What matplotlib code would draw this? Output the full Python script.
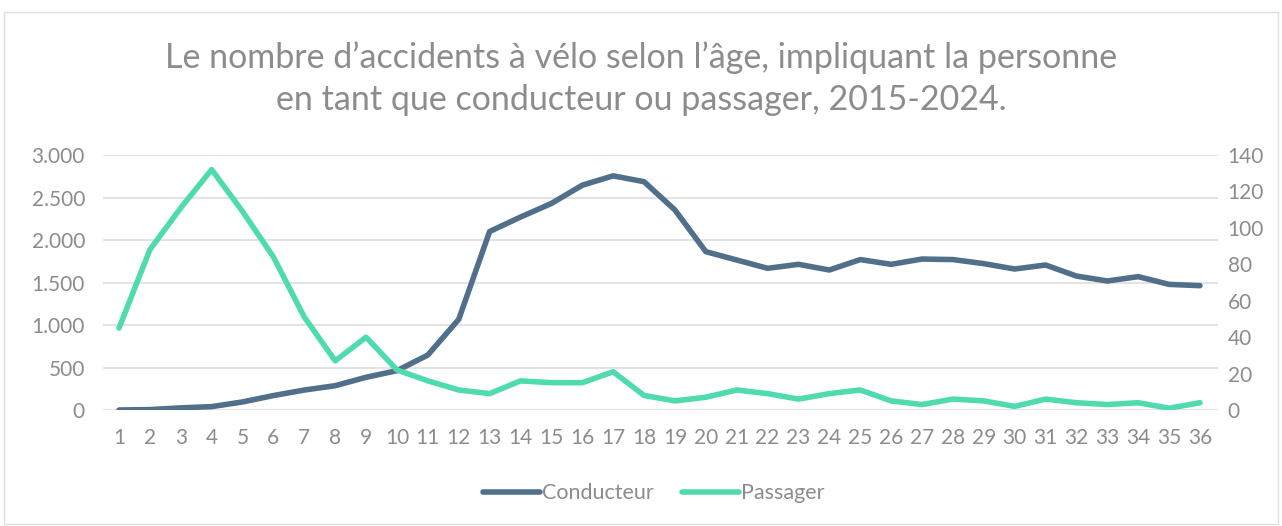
import matplotlib.pyplot as plt
from matplotlib.patches import Rectangle
from matplotlib.ticker import FuncFormatter

# ages 1..36
ages = list(range(1, 37))

conducteur = [0, 5, 25, 40, 95, 170, 235, 286, 385, 463,
              647, 1067, 2100, 2270, 2430, 2645, 2755, 2686, 2353, 1863,
              1765, 1667, 1714, 1647, 1770, 1714, 1776, 1770, 1722, 1659,
              1706, 1576, 1518, 1569, 1478, 1463]

passager = [45, 88, 111, 132, 109, 84, 51, 27, 40, 22,
            16, 11, 9, 16, 15, 15, 21, 8, 5, 7,
            11, 9, 6, 9, 11, 5, 3, 6, 5, 2,
            6, 4, 3, 4, 1, 4]

c_cond = '#506F8A'
c_pass = '#50DBAF'
c_text = '#8C8C8C'
c_grid = '#E3E3E3'

plt.rcParams['font.family'] = ['Lato', 'DejaVu Sans']

fig = plt.figure(figsize=(12.82, 5.26), dpi=100)
fig.patches.append(Rectangle((0.003, 0.003), 0.994, 0.975, transform=fig.transFigure,
                             fill=False, edgecolor='#E0E0E0', linewidth=1))

ax = fig.add_axes([0.0803, 0.2205, 0.8697, 0.4848])
ax2 = ax.twinx()

ax.plot(ages, conducteur, color=c_cond, linewidth=4, solid_capstyle='round',
        solid_joinstyle='round', label='Conducteur', zorder=3)
ax2.plot(ages, passager, color=c_pass, linewidth=4, solid_capstyle='round',
         solid_joinstyle='round', label='Passager', zorder=3)

ax.set_xlim(0.48, 36.58)
ax.set_ylim(0, 3000)
ax2.set_ylim(0, 140)
ax.set_xticks(ages)
ax.set_yticks(range(0, 3001, 500))
ax2.set_yticks(range(0, 141, 20))
ax.yaxis.set_major_formatter(FuncFormatter(lambda v, p: f'{int(v):,}'.replace(',', '.')))

ax.grid(axis='y', color=c_grid, linewidth=1.5)
ax.set_axisbelow(True)
for a in (ax, ax2):
    for s in a.spines.values():
        s.set_visible(False)
    a.tick_params(length=0, labelsize=15, labelcolor=c_text)
ax.tick_params(axis='y', pad=13)
ax2.tick_params(axis='y', pad=7)
ax.tick_params(axis='x', pad=13)

fig.text(0.5, 0.85, "Le nombre d\u2019accidents \u00e0 v\u00e9lo selon l\u2019\u00e2ge, impliquant la personne\n"
         "en tant que conducteur ou passager, 2015-2024.",
         ha='center', va='center', fontsize=24.5, color=c_text, linespacing=1.4)

h1, l1 = ax.get_legend_handles_labels()
h2, l2 = ax2.get_legend_handles_labels()
fig.legend(h1 + h2, l1 + l2, loc='center', bbox_to_anchor=(0.51, 0.062), ncol=2,
           frameon=False, fontsize=15.5, labelcolor=c_text, handlelength=2.65,
           handletextpad=0.1, columnspacing=1.3)

fig.savefig('out.png', dpi=100)
